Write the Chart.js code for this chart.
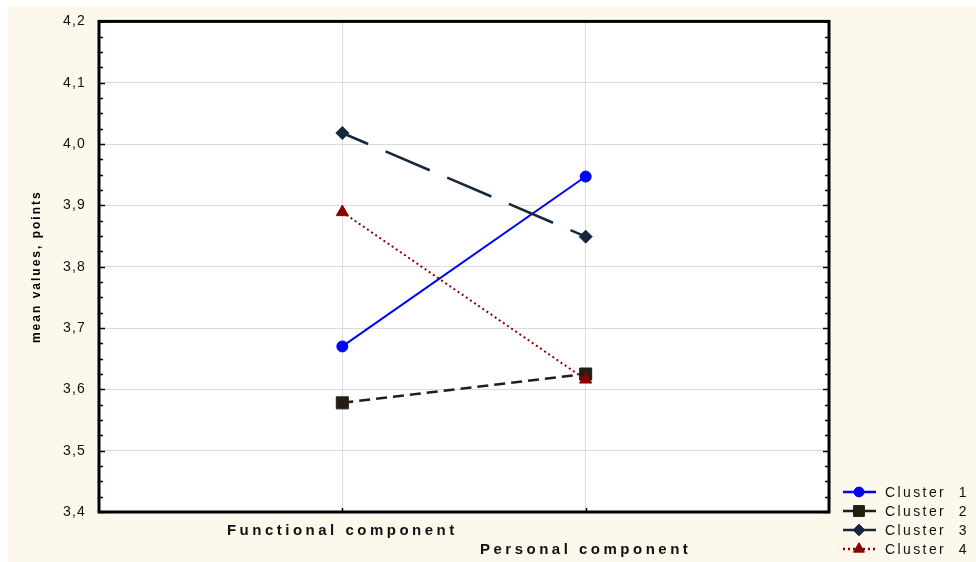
<!DOCTYPE html>
<html>
<head>
<meta charset="utf-8">
<script src="https://cdn.jsdelivr.net/npm/chart.js@4/dist/chart.umd.min.js"></script>
<style>
  html, body { margin: 0; padding: 0; background: #ffffff; }
  #wrap { width: 976px; height: 562px; position: relative; }
</style>
</head>
<body>
<div id="wrap"><canvas id="c"></canvas></div>
<script>
// ---- data ----
const categories = ['Functional component', 'Personal component'];
const seriesNames = ['Cluster  1', 'Cluster  2', 'Cluster  3', 'Cluster  4'];
const cluster1 = [3.670, 3.947];
const cluster2 = [3.578, 3.625];
const cluster3 = [4.018, 3.849];
const cluster4 = [3.889, 3.616];
const yTicks = [3.4, 3.5, 3.6, 3.7, 3.8, 3.9, 4.0, 4.1, 4.2];

const FONT = "'Liberation Sans', Arial, sans-serif";
const toPts = arr => arr.map((v, i) => ({ x: i + 1, y: v }));

const styles = [
  { color: '#0000ff', dash: [], dashOffset: 0, width: 2, point: 'circle', radius: 5.5, order: 2 },
  { color: '#231f14', dash: [11, 6], dashOffset: 0, width: 2.5, point: 'rect', radius: 8.5, order: 3 },
  { color: '#16263c', dash: [48, 19], dashOffset: 20, width: 2.5, point: 'rectRot', radius: 6.5, order: 1 },
  { color: '#8b0000', dash: [2, 3], dashOffset: 0, width: 2, point: 'triangle', radius: 7, order: 0 }
];
const seriesData = [cluster1, cluster2, cluster3, cluster4];

const datasets = seriesData.map((d, k) => ({
  label: seriesNames[k],
  data: toPts(d),
  borderColor: styles[k].color,
  backgroundColor: styles[k].color,
  borderWidth: styles[k].width,
  borderDash: styles[k].dash,
  borderDashOffset: styles[k].dashOffset,
  pointStyle: styles[k].point,
  pointRadius: styles[k].radius,
  pointHoverRadius: styles[k].radius,
  pointBorderWidth: 1,
  pointBackgroundColor: styles[k].color,
  pointBorderColor: styles[k].color,
  order: styles[k].order,
  tension: 0,
  fill: false
}));

// background plugin
const bgPlugin = {
  id: 'bg',
  beforeDraw(chart) {
    const ctx = chart.ctx, a = chart.chartArea;
    ctx.save();
    ctx.fillStyle = '#ffffff';
    ctx.fillRect(0, 0, chart.width, chart.height);
    ctx.fillStyle = '#fdf8ec';
    ctx.fillRect(8, 6, chart.width - 8, chart.height - 6);
    ctx.fillStyle = '#ffffff';
    ctx.fillRect(a.left, a.top, a.right - a.left, a.bottom - a.top);
    ctx.restore();
    // letter spacing for axis texts
    const patch = (scale, labelSp, titleSp) => {
      if (scale._lsPatched) return;
      scale._lsPatched = true;
      const proto = Object.getPrototypeOf(scale);
      scale.drawLabels = function (ca) {
        const c = this.ctx; c.save(); c.letterSpacing = labelSp; proto.drawLabels.call(this, ca); c.restore();
      };
      scale.drawTitle = function () {
        const c = this.ctx; c.save(); c.letterSpacing = titleSp; proto.drawTitle.call(this); c.restore();
      };
    };
    patch(chart.scales.x, '3.5px', '0px');
    patch(chart.scales.y, '1.2px', '2px');
  }
};

// frame + inner ticks
const framePlugin = {
  id: 'frame',
  afterDatasetsDraw(chart) {
    const ctx = chart.ctx, a = chart.chartArea;
    const ys = chart.scales.y, xs = chart.scales.x;
    ctx.save();
    ctx.strokeStyle = '#000000';
    ctx.lineWidth = 1.5;
    ctx.beginPath();
    for (let i = 0; i <= 32; i++) {
      const v = 3.4 + i * 0.025;
      const py = Math.round(ys.getPixelForValue(v)) + 0.5;
      const len = (i % 4 === 0) ? 6 : 4;
      ctx.moveTo(a.left, py); ctx.lineTo(a.left + len, py);
      ctx.moveTo(a.right, py); ctx.lineTo(a.right - len, py);
    }
    categories.forEach((c, i) => {
      const px = Math.round(xs.getPixelForValue(i + 1)) + 0.5;
      ctx.moveTo(px, a.bottom); ctx.lineTo(px, a.bottom - 4);
    });
    ctx.stroke();
    ctx.lineWidth = 3;
    ctx.strokeRect(a.left, a.top, a.right - a.left, a.bottom - a.top);
    ctx.restore();
  }
};

// legend plugin (line + marker + text)
const legendPlugin = {
  id: 'customLegend',
  afterDraw(chart) {
    const ctx = chart.ctx;
    const x0 = 843, x1 = 876, xm = 859, xt = 885;
    const yStart = 492, dy = 19;
    chart.data.datasets.forEach((ds, k) => {
      const y = yStart + k * dy;
      ctx.save();
      ctx.strokeStyle = ds.borderColor;
      ctx.lineWidth = 2.5;
      ctx.setLineDash(k === 3 ? [2, 3] : []);
      ctx.beginPath();
      ctx.moveTo(x0, y); ctx.lineTo(x1, y);
      ctx.stroke();
      ctx.setLineDash([]);
      ctx.fillStyle = ds.borderColor;
      ctx.strokeStyle = ds.borderColor;
      ctx.lineWidth = 1;
      Chart.helpers.drawPoint(ctx, { pointStyle: ds.pointStyle, radius: ds.pointRadius * 0.9, rotation: 0, borderWidth: 1 }, xm, y);
      ctx.fillStyle = '#111111';
      ctx.font = '14px ' + FONT;
      ctx.letterSpacing = '2.4px';
      ctx.textAlign = 'left';
      ctx.textBaseline = 'middle';
      ctx.fillText(ds.label, xt, y + 1);
      ctx.restore();
    });
  }
};

new Chart(document.getElementById('c'), {
  type: 'line',
  data: { datasets },
  plugins: [bgPlugin, framePlugin, legendPlugin],
  options: {
    responsive: true,
    maintainAspectRatio: false,
    animation: false,
    events: [],
    layout: { padding: { left: 0, top: 20, right: 147, bottom: 0 } },
    plugins: { legend: { display: false }, tooltip: { enabled: false } },
    scales: {
      x: {
        type: 'linear',
        min: 0,
        max: categories.length + 1,
        afterBuildTicks(s) { s.ticks = categories.map((c, i) => ({ value: i + 1 })); },
        afterFit(s) { s.height = 50; },
        ticks: {
          autoSkip: false,
          maxRotation: 0,
          padding: 9,
          color: '#111111',
          font: { family: FONT, size: 15, weight: 'bold', lineHeight: 1.27 },
          callback(value, index) {
            return categories.map((c, i) => (i === index ? c : ''));
          }
        },
        grid: { color: '#dcdcdc', lineWidth: 1, drawTicks: false },
        border: { display: false }
      },
      y: {
        min: yTicks[0],
        max: yTicks[yTicks.length - 1],
        afterBuildTicks(s) { s.ticks = yTicks.map(v => ({ value: v })); },
        afterFit(s) { s.width = 99; },
        ticks: {
          padding: 13,
          color: '#111111',
          font: { family: FONT, size: 14 },
          callback(value) { return Number(value).toFixed(1).replace('.', ','); }
        },
        grid: { color: '#dcdcdc', lineWidth: 1, drawTicks: false },
        border: { display: false },
        title: {
          display: true,
          text: 'mean values, points',
          color: '#000000',
          font: { family: FONT, size: 12, weight: 'bold' },
          padding: { top: 29, bottom: 0 }
        }
      }
    }
  }
});
</script>
</body>
</html>
